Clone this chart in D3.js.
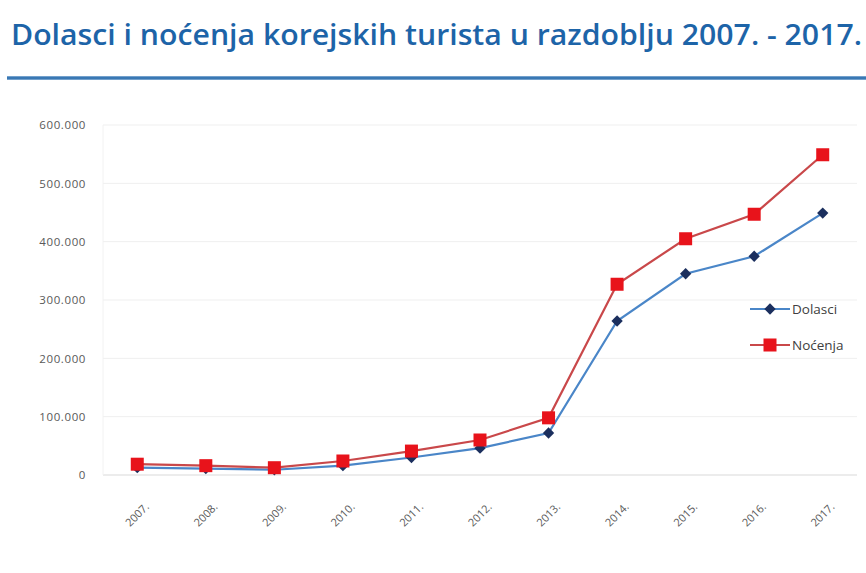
<!DOCTYPE html>
<html lang="hr">
<head>
    <meta charset="UTF-8">
    <title>Dolasci i noćenja</title>
    <script src="https://d3js.org/d3.v7.min.js"></script>
    <style>
        body { margin: 0; background: #fff; }
        .axis text { font-family: "Open Sans", sans-serif; fill: #595959; }
        .axis path, .axis line { stroke: none; }
    </style>
</head>
<body>
<svg width="866" height="573"></svg>
<script>
    // data
    const years = ["2007.", "2008.", "2009.", "2010.", "2011.", "2012.", "2013.", "2014.", "2015.", "2016.", "2017."];
    const dolasci = [12500, 11000, 9000, 16000, 30000, 46000, 72000, 264000, 345000, 375000, 449000];
    const nocenja = [18500, 16000, 12500, 24000, 41000, 60000, 98000, 327000, 405000, 447000, 549000];
    const yTicks = [0, 100000, 200000, 300000, 400000, 500000, 600000];
    const seriesNames = ["Dolasci", "Noćenja"];

    const svg = d3.select("svg");
    const plotLeft = 103, plotRight = 857, plotTop = 125, plotBottom = 475;

    // title + rule
    svg.append("text")
        .attr("x", 11).attr("y", 45)
        .attr("textLength", 851).attr("lengthAdjust", "spacingAndGlyphs")
        .style("font-family", "'Open Sans', sans-serif")
        .style("font-size", "28px").style("font-weight", 600)
        .attr("fill", "#1d64a8")
        .text("Dolasci i noćenja korejskih turista u razdoblju 2007. - 2017.");

    const grad = svg.append("defs").append("linearGradient")
        .attr("id", "rule").attr("x1", 0).attr("x2", 0).attr("y1", 0).attr("y2", 1);
    grad.append("stop").attr("offset", "0%").attr("stop-color", "#8fb4d8");
    grad.append("stop").attr("offset", "50%").attr("stop-color", "#1d64a8");
    grad.append("stop").attr("offset", "100%").attr("stop-color", "#8fb4d8");
    svg.append("rect").attr("x", 7).attr("y", 76).attr("width", 859).attr("height", 4)
        .attr("fill", "url(#rule)");

    let x = d3.scaleBand().domain(years).range([plotLeft, plotRight]);
    let y = d3.scaleLinear().domain([0, 600000]).range([plotBottom, plotTop]);

    const fmt = d => d === 0 ? "0" : d3.format(",")(d).replace(/,/g, ".");

    // grid
    svg.append("g").selectAll("line")
        .data(yTicks).enter().append("line")
        .attr("x1", plotLeft).attr("x2", plotRight)
        .attr("y1", d => y(d)).attr("y2", d => y(d))
        .attr("stroke", d => d === 0 ? "#d9d9d9" : "#efefef")
        .attr("stroke-width", 1);
    svg.append("line")
        .attr("x1", plotLeft).attr("x2", plotLeft).attr("y1", plotTop).attr("y2", plotBottom)
        .attr("stroke", "#f2f2f2");

    // y axis
    svg.append("g")
        .attr("class", "axis")
        .attr("transform", `translate(${plotLeft},0)`)
        .call(d3.axisLeft(y).tickValues(yTicks).tickFormat(fmt).tickSize(0).tickPadding(17))
        .selectAll("text")
        .style("font-size", "11.5px").style("letter-spacing", "0.6px");

    // x axis
    svg.append("g")
        .attr("class", "axis")
        .attr("transform", `translate(0,${plotBottom})`)
        .call(d3.axisBottom(x).tickSize(0).tickPadding(0))
        .selectAll("text")
        .style("font-size", "11px")
        .attr("text-anchor", "end")
        .attr("transform", "translate(7,27) rotate(-45)");

    const lineGen = d3.line()
        .x((d, i) => x(years[i]) + x.bandwidth() / 2)
        .y(d => y(d));

    // Dolasci
    svg.append("path").datum(dolasci)
        .attr("d", lineGen).attr("fill", "none")
        .attr("stroke", "#4a86c8").attr("stroke-width", 2.2);
    svg.append("g").selectAll("rect")
        .data(dolasci).enter().append("rect")
        .attr("x", -4).attr("y", -4).attr("width", 8).attr("height", 8)
        .attr("transform", (d, i) => `translate(${x(years[i]) + x.bandwidth() / 2},${y(d)}) rotate(45)`)
        .attr("fill", "#1b2f5e");

    // Noćenja
    svg.append("path").datum(nocenja)
        .attr("d", lineGen).attr("fill", "none")
        .attr("stroke", "#c9484a").attr("stroke-width", 2.2);
    svg.append("g").selectAll("rect")
        .data(nocenja).enter().append("rect")
        .attr("x", (d, i) => x(years[i]) + x.bandwidth() / 2 - 6.5)
        .attr("y", d => y(d) - 6.5)
        .attr("width", 13).attr("height", 13)
        .attr("fill", "#e8131b");

    // legend
    const legend = svg.append("g").attr("transform", "translate(750,309)");
    const colors = [["#4a86c8", "#1b2f5e"], ["#c9484a", "#e8131b"]];
    seriesNames.forEach((name, i) => {
        const g = legend.append("g").attr("transform", `translate(0,${i * 36})`);
        g.append("line").attr("x1", 0).attr("x2", 40).attr("stroke", colors[i][0]).attr("stroke-width", 2.2);
        if (i === 0) {
            g.append("rect").attr("x", -4).attr("y", -4).attr("width", 8).attr("height", 8)
                .attr("transform", "translate(20,0) rotate(45)").attr("fill", colors[i][1]);
        } else {
            g.append("rect").attr("x", 13.5).attr("y", -6.5).attr("width", 13).attr("height", 13)
                .attr("fill", colors[i][1]);
        }
        g.append("text").attr("x", 42).attr("y", 5)
            .style("font-family", "'Open Sans', sans-serif").style("font-size", "13.5px")
            .attr("fill", "#404040").text(name);
    });
</script>
</body>
</html>
